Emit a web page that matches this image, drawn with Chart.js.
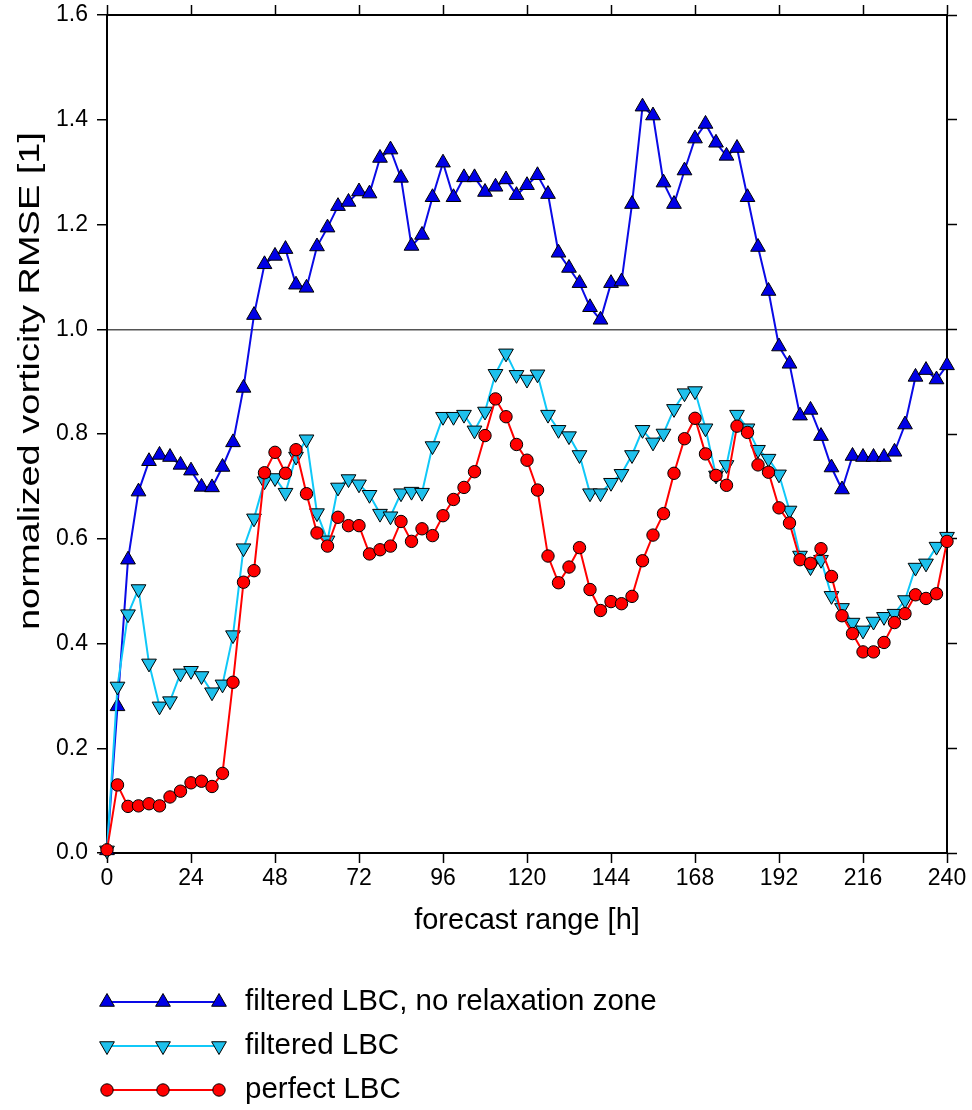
<!DOCTYPE html>
<html>
<head>
<meta charset="utf-8">
<script src="https://cdn.jsdelivr.net/npm/chart.js@4/dist/chart.umd.min.js"></script>
<style>
  body { margin: 0; background: #fff; }
  canvas { display: block; }
</style>
</head>
<body>
<canvas id="spaceForGraphic" width="972" height="1110"></canvas>
<script>
// forecast hours (x axis)
const hours = [0, 3, 6, 9, 12, 15, 18, 21, 24, 27, 30, 33, 36, 39, 42, 45, 48, 51, 54, 57,
  60, 63, 66, 69, 72, 75, 78, 81, 84, 87, 90, 93, 96, 99, 102, 105, 108, 111, 114, 117,
  120, 123, 126, 129, 132, 135, 138, 141, 144, 147, 150, 153, 156, 159, 162, 165, 168, 171, 174, 177,
  180, 183, 186, 189, 192, 195, 198, 201, 204, 207, 210, 213, 216, 219, 222, 225, 228, 231, 234, 237, 240];

// filtered LBC, no relaxation zone
const noRelax = [0.005, 0.28, 0.56, 0.69, 0.748, 0.76, 0.756, 0.741, 0.73, 0.699, 0.698, 0.737, 0.784, 0.888, 1.027, 1.124, 1.14, 1.153, 1.085, 1.079,
  1.158, 1.194, 1.235, 1.243, 1.263, 1.259, 1.327, 1.343, 1.289, 1.159, 1.18, 1.252, 1.318, 1.252, 1.29, 1.29, 1.262, 1.272, 1.286, 1.256,
  1.275, 1.294, 1.258, 1.146, 1.117, 1.088, 1.042, 1.018, 1.088, 1.091, 1.239, 1.425, 1.408, 1.28, 1.239, 1.303, 1.364, 1.392, 1.356, 1.331,
  1.346, 1.252, 1.157, 1.073, 0.967, 0.934, 0.835, 0.846, 0.796, 0.736, 0.694, 0.758, 0.756, 0.756, 0.756, 0.766, 0.818, 0.909, 0.922, 0.904, 0.931];

// filtered LBC
const filtered = [0.005, 0.318, 0.456, 0.504, 0.362, 0.28, 0.29, 0.343, 0.348, 0.338, 0.307, 0.322, 0.416, 0.582, 0.639, 0.71, 0.716, 0.688, 0.757, 0.79,
  0.649, 0.597, 0.698, 0.714, 0.704, 0.684, 0.648, 0.643, 0.687, 0.69, 0.688, 0.777, 0.833, 0.833, 0.837, 0.807, 0.843, 0.915, 0.954, 0.913,
  0.904, 0.914, 0.837, 0.808, 0.796, 0.76, 0.687, 0.687, 0.707, 0.724, 0.76, 0.808, 0.784, 0.801, 0.848, 0.878, 0.882, 0.811, 0.721, 0.741,
  0.837, 0.811, 0.77, 0.753, 0.723, 0.654, 0.568, 0.546, 0.56, 0.491, 0.468, 0.44, 0.425, 0.442, 0.451, 0.457, 0.483, 0.545, 0.553, 0.585, 0.604];

// perfect LBC
const perfect = [0.006, 0.13, 0.089, 0.09, 0.094, 0.09, 0.107, 0.118, 0.134, 0.137, 0.127, 0.152, 0.326, 0.517, 0.539, 0.726, 0.765, 0.725, 0.77, 0.686,
  0.611, 0.586, 0.641, 0.625, 0.625, 0.571, 0.579, 0.586, 0.633, 0.595, 0.619, 0.606, 0.644, 0.675, 0.698, 0.728, 0.797, 0.867, 0.833, 0.78,
  0.75, 0.693, 0.567, 0.516, 0.546, 0.583, 0.503, 0.463, 0.48, 0.476, 0.49, 0.558, 0.607, 0.648, 0.725, 0.791, 0.83, 0.762, 0.721, 0.702,
  0.815, 0.803, 0.741, 0.727, 0.659, 0.63, 0.56, 0.553, 0.581, 0.528, 0.453, 0.419, 0.384, 0.384, 0.402, 0.44, 0.457, 0.493, 0.486, 0.495, 0.595];

const seriesNames = ["filtered LBC, no relaxation zone", "filtered LBC", "perfect LBC"];
const xTicks = [0, 24, 48, 72, 96, 120, 144, 168, 192, 216, 240];
const yTicks = [0, 0.2, 0.4, 0.6, 0.8, 1.0, 1.2, 1.4, 1.6];

const FONT = "'Liberation Sans', Arial, Helvetica, sans-serif";

function pairs(vals) {
  return hours.map((h, i) => ({ x: h, y: vals[i] }));
}

//titulo del eje Y, dibujado a mano para ubicarlo y estirarlo como en la figura
const yTitlePlugin = {
  id: "yTitle",
  afterDraw(chart) {
    const ctx = chart.ctx;
    const text = "normalized vorticity RMSE [1]";
    ctx.save();
    ctx.translate(31, 381);
    ctx.rotate(-Math.PI / 2);
    ctx.font = "30px " + FONT;
    const w = ctx.measureText(text).width;
    ctx.scale(498 / w, 1); //largo del texto como en la figura
    ctx.fillStyle = "#000";
    ctx.textAlign = "center";
    ctx.textBaseline = "middle";
    ctx.fillText(text, 0, 0);
    ctx.restore();
  },
};

//leyenda con linea y tres marcadores
const legendPlugin = {
  id: "lineLegend",
  afterDraw(chart) {
    const ctx = chart.ctx;
    chart.data.datasets.forEach((ds, i) => {
      const y = 1002 + i * 44;
      ctx.save();
      ctx.strokeStyle = ds.borderColor;
      ctx.lineWidth = ds.borderWidth;
      ctx.beginPath();
      ctx.moveTo(107, y);
      ctx.lineTo(219, y);
      ctx.stroke();
      ctx.fillStyle = ds.pointBackgroundColor;
      ctx.strokeStyle = ds.pointBorderColor;
      ctx.lineWidth = ds.pointBorderWidth;
      [107, 163, 219].forEach((x) => {
        Chart.helpers.drawPoint(ctx, {
          pointStyle: ds.pointStyle,
          radius: ds.pointRadius,
          rotation: ds.pointRotation || 0,
          borderWidth: ds.pointBorderWidth,
        }, x, y);
      });
      ctx.fillStyle = "#000";
      ctx.font = "29.5px " + FONT;
      ctx.textAlign = "left";
      ctx.textBaseline = "middle";
      ctx.fillText(seriesNames[i], 245, y);
      ctx.restore();
    });
  },
};

const axisBorder = { display: true, color: "#000", width: 2 };
const tickGrid = { drawOnChartArea: false, drawTicks: true, tickLength: 10, tickColor: "#000", tickWidth: 1.5 };

new Chart(document.getElementById("spaceForGraphic"), {
  type: "line",
  data: {
    datasets: [
      {
        label: seriesNames[0],
        data: pairs(noRelax),
        borderColor: "#0a0ae6",
        borderWidth: 2,
        pointStyle: "triangle",
        pointRadius: 8.5,
        pointBackgroundColor: "#0000e6",
        pointBorderColor: "#000",
        pointBorderWidth: 1,
        order: 3,
      },
      {
        label: seriesNames[1],
        data: pairs(filtered),
        borderColor: "#10c8f8",
        borderWidth: 2,
        pointStyle: "triangle",
        pointRotation: 180,
        pointRadius: 8.5,
        pointBackgroundColor: "#1ec0ec",
        pointBorderColor: "#000",
        pointBorderWidth: 1,
        order: 2,
      },
      {
        label: seriesNames[2],
        data: pairs(perfect),
        borderColor: "#ff0000",
        borderWidth: 2,
        pointStyle: "circle",
        pointRadius: 6.2,
        pointBackgroundColor: "#ff0000",
        pointBorderColor: "#000",
        pointBorderWidth: 1,
        order: 1,
      },
    ],
  },
  options: {
    responsive: false,
    animation: false,
    clip: false,
    layout: { padding: { top: 15, right: 25, left: 0, bottom: 157 } },
    plugins: { legend: { display: false }, tooltip: { enabled: false } },
    elements: { line: { tension: 0 } },
    scales: {
      x: {
        type: "linear",
        position: "bottom",
        min: 0,
        max: 240,
        afterBuildTicks: (s) => { s.ticks = xTicks.map((v) => ({ value: v })); },
        afterFit: (s) => { s.height = 100; s.paddingLeft = 0; s.paddingRight = 0; },
        ticks: { color: "#000", font: { family: FONT, size: 23 }, padding: 2, maxRotation: 0 },
        grid: tickGrid,
        border: axisBorder,
        title: { display: true, text: "forecast range [h]", color: "#000", font: { family: FONT, size: 29 }, padding: { top: 0, bottom: 15 } },
      },
      xTop: {
        type: "linear",
        position: "top",
        min: 0,
        max: 240,
        afterBuildTicks: (s) => { s.ticks = xTicks.map((v) => ({ value: v })); },
        afterFit: (s) => { s.height = 0; s.paddingLeft = 0; s.paddingRight = 0; },
        ticks: { display: false },
        grid: tickGrid,
        border: axisBorder,
      },
      y: {
        type: "linear",
        position: "left",
        min: 0,
        max: 1.6,
        afterBuildTicks: (s) => { s.ticks = yTicks.map((v) => ({ value: v })); },
        afterFit: (s) => { s.width = 107; s.paddingTop = 0; s.paddingBottom = 0; },
        ticks: { color: "#000", font: { family: FONT, size: 23 }, padding: 9, callback: (v) => Number(v).toFixed(1) },
        grid: {
          drawTicks: true,
          tickLength: 10,
          tickColor: "#000",
          tickWidth: 1.5,
          lineWidth: 1.5,
          color: (c) => (c.tick && Math.abs(c.tick.value - 1) < 1e-6 ? "#555" : "rgba(0,0,0,0)"),
        },
        border: axisBorder,
      },
      yRight: {
        type: "linear",
        position: "right",
        min: 0,
        max: 1.6,
        afterBuildTicks: (s) => { s.ticks = yTicks.map((v) => ({ value: v })); },
        afterFit: (s) => { s.width = 0; s.paddingTop = 0; s.paddingBottom = 0; },
        ticks: { display: false },
        grid: tickGrid,
        border: axisBorder,
      },
    },
  },
  plugins: [yTitlePlugin, legendPlugin],
});
</script>
</body>
</html>
